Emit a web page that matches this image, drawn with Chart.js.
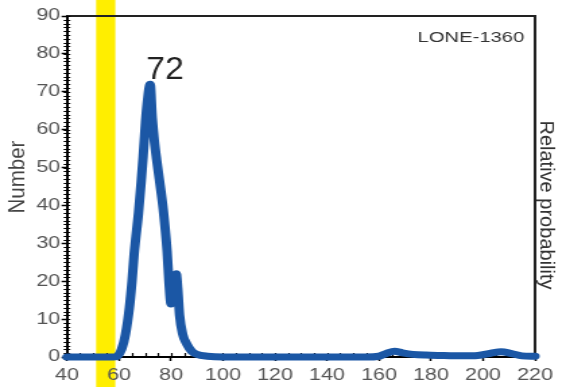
<!DOCTYPE html>
<html>
<head>
<meta charset="utf-8">
<script src="https://cdn.jsdelivr.net/npm/chart.js@4.4.1/dist/chart.umd.min.js"></script>
<style>
  html, body { margin: 0; padding: 0; background: #fff; overflow: hidden; }
  /* plot is laid out narrow and widened to the page */
  #wrap { width: 420px; height: 387px; transform: scaleX(1.3476); transform-origin: 0 0; }
</style>
</head>
<body>
<div id="wrap"><canvas id="chart" width="420" height="387"></canvas></div>
<script>
// age (Ma) vs. number of grains
const ages   = [40, 55, 58, 59.5, 61, 62.5, 64, 65, 65.8, 66.4, 67.5, 68.5, 69.3, 70.2, 71, 72,
                72.8, 73.6, 74.5, 75.5, 77, 78.5, 79.3, 80, 80.8, 81.5, 82, 82.6, 83.3, 84.5, 86, 88,
                90, 94, 100, 130, 155, 160, 163, 166, 169, 173, 178, 185, 192, 198, 203, 207, 211, 215, 220];
const counts = [0, 0, 0, 0.3, 2, 6, 13, 20, 27, 31, 38, 46, 53, 62, 68, 72,
                63, 57, 52, 47, 39, 28, 19, 14, 16, 21, 22, 18, 11, 6, 3.5, 1.5,
                0.7, 0.2, 0, 0, 0, 0.2, 1, 1.5, 1.1, 0.7, 0.5, 0.4, 0.3, 0.4, 1, 1.4, 0.9, 0.3, 0.2];

const xTickValues = [40, 60, 80, 100, 120, 140, 160, 180, 200, 220];
const yTickValues = [0, 10, 20, 30, 40, 50, 60, 70, 80, 90];

const sampleName = 'LONE-1360';
const peakAge = 72, peakCount = 72, peakLabel = '72';
const bandFrom = 51.2, bandTo = 58.6;   // highlighted age window

const tickFont = { family: 'Liberation Sans, Arial, sans-serif', size: 16 };

// yellow band, outer frame and minor ticks
const decorations = {
  id: 'decorations',
  beforeDraw(chart) {
    const { ctx, scales: { x } } = chart;
    const l = x.getPixelForValue(bandFrom), r = x.getPixelForValue(bandTo);
    ctx.save();
    ctx.fillStyle = '#ffee00';
    ctx.fillRect(l, 0, r - l, chart.height);
    ctx.restore();
  },
  beforeDatasetsDraw(chart) {
    const { ctx, chartArea: a, scales: { x, y } } = chart;
    ctx.save();
    ctx.strokeStyle = '#222';
    ctx.lineWidth = 2;
    ctx.beginPath();
    ctx.moveTo(a.left, a.top);
    ctx.lineTo(a.right, a.top);
    ctx.lineTo(a.right, a.bottom);
    ctx.stroke();

    ctx.strokeStyle = '#000';
    ctx.lineWidth = 1.2;
    ctx.beginPath();
    for (let v = 0; v <= 90; v += 1) {
      const py = Math.round(y.getPixelForValue(v)) + 0.5;
      ctx.moveTo(a.left - 2.5, py);
      ctx.lineTo(a.left + 2.5, py);
    }
    for (let v = 40; v <= 220; v += 5) {
      const px = Math.round(x.getPixelForValue(v)) + 0.5;
      ctx.moveTo(px, a.bottom);
      ctx.lineTo(px, a.bottom - 4);
    }
    ctx.stroke();
    ctx.restore();
  },
  afterDraw(chart) {
    const { ctx, scales: { x, y } } = chart;
    ctx.save();
    ctx.fillStyle = '#222';
    ctx.font = '32px Liberation Sans, Arial, sans-serif';
    ctx.textAlign = 'center';
    ctx.textBaseline = 'alphabetic';
    ctx.translate(x.getPixelForValue(peakAge) + 11, y.getPixelForValue(peakCount) - 5);
    ctx.scale(0.78, 1);
    ctx.fillText(peakLabel, 0, 0);
    ctx.restore();

    ctx.save();
    ctx.fillStyle = '#333';
    ctx.font = '15px Liberation Sans, Arial, sans-serif';
    ctx.textAlign = 'right';
    ctx.fillText(sampleName, 389, 42);
    ctx.restore();

    ctx.save();
    ctx.fillStyle = '#444';
    ctx.font = '16px Liberation Sans, Arial, sans-serif';
    ctx.textAlign = 'center';
    ctx.textBaseline = 'middle';
    ctx.translate(13.4, 177);
    ctx.rotate(-Math.PI / 2);
    ctx.scale(1.28, 1);
    ctx.fillText('Number', 0, 0);
    ctx.restore();

    ctx.save();
    ctx.fillStyle = '#333';
    ctx.font = '14px Liberation Sans, Arial, sans-serif';
    ctx.textAlign = 'center';
    ctx.textBaseline = 'middle';
    ctx.translate(405.2, 205);
    ctx.rotate(Math.PI / 2);
    ctx.scale(1.43, 1);
    ctx.fillText('Relative probability', 0, 0);
    ctx.restore();
  }
};

new Chart(document.getElementById('chart'), {
  type: 'line',
  data: {
    datasets: [{
      data: ages.map((a, i) => ({ x: a, y: counts[i] })),
      borderColor: '#1b57a5',
      borderWidth: 7,
      pointRadius: 0,
      cubicInterpolationMode: 'monotone',
      borderJoinStyle: 'round',
      borderCapStyle: 'round',
      fill: false,
      clip: false
    }]
  },
  options: {
    responsive: false,
    animation: false,
    layout: { padding: { top: 16, right: 23, left: 0, bottom: 0 } },
    plugins: { legend: { display: false }, tooltip: { enabled: false } },
    scales: {
      x: {
        type: 'linear', min: 40, max: 220,
        afterBuildTicks: s => { s.ticks = xTickValues.map(v => ({ value: v })); },
        afterFit: s => { s.height = 30; },
        ticks: { font: tickFont, color: '#555', padding: 5, maxRotation: 0 },
        grid: { drawOnChartArea: false, tickLength: 4, color: '#000', tickWidth: 1.5 },
        border: { color: '#000', width: 2 }
      },
      y: {
        type: 'linear', min: 0, max: 90,
        afterBuildTicks: s => { s.ticks = yTickValues.map(v => ({ value: v })); },
        afterFit: s => { s.width = 49.7; },
        ticks: { font: tickFont, color: '#555', padding: 1 },
        grid: { drawOnChartArea: false, tickLength: 4, color: '#000', tickWidth: 1.5 },
        border: { color: '#000', width: 2 }
      }
    }
  },
  plugins: [decorations]
});
</script>
</body>
</html>
